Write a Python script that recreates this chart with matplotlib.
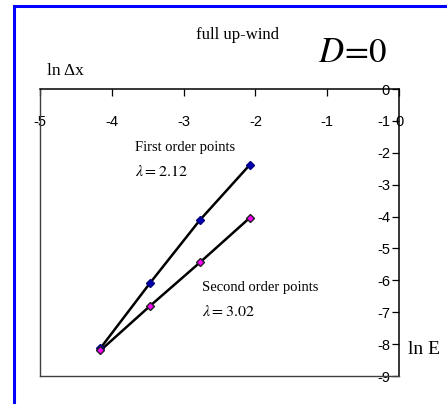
import matplotlib.pyplot as plt
from matplotlib.patches import Rectangle

plt.rcParams['mathtext.fontset'] = 'stix'

# grid spacing: ln(dx) for dx = 1/64 .. 1/8
ln_dx = [-4.159, -3.466, -2.773, -2.079]
# error for the first and second order schemes (ln E)
first_order = [-8.13, -6.08, -4.11, -2.38]
second_order = [-8.20, -6.80, -5.44, -4.04]

x_ticks = [-5, -4, -3, -2, -1, 0]
y_ticks = [0, -1, -2, -3, -4, -5, -6, -7, -8, -9]

W, H = 447, 404
fig = plt.figure(figsize=(W / 100, H / 100), dpi=100)

# blue frame round the chart (left and top edges show)
fig.patches.append(Rectangle((14 / W, -0.1), 1.2, 1.1 - 6 / H,
                             transform=fig.transFigure, fill=False,
                             edgecolor='#0000ff', linewidth=2.2))

ax = fig.add_axes([40 / W, 1 - 376 / H, 359 / W, 287 / H])
ax.set_xlim(-5, 0)
ax.set_ylim(-9, 0)

ax.plot(ln_dx, first_order, color='black', linewidth=1.8, zorder=2)
ax.plot(ln_dx, second_order, color='black', linewidth=1.8, zorder=2)
ax.plot(ln_dx, first_order, linestyle='none', marker='D', markersize=4,
        markerfacecolor='#0000b0', markeredgecolor='#000080', zorder=3)
ax.plot(ln_dx, second_order, linestyle='none', marker='D', markersize=4,
        markerfacecolor='#ff00ff', markeredgecolor='#202020', zorder=3)

ax.xaxis.tick_top()
ax.yaxis.tick_right()
ax.set_xticks(x_ticks)
ax.set_yticks(y_ticks)
ax.set_xticklabels([str(v) for v in x_ticks], fontfamily='Liberation Sans', fontsize=10.5)
ax.set_yticklabels([str(v) for v in y_ticks], fontfamily='Liberation Sans', fontsize=10.5)
ax.tick_params(axis='x', direction='in', length=5, pad=-29, width=0.9)
ax.tick_params(axis='y', direction='in', length=5, pad=-6.5, width=0.9)
for lab in ax.get_yticklabels():
    lab.set_horizontalalignment('right')

for side in ['top', 'right']:
    ax.spines[side].set_color('black')
    ax.spines[side].set_linewidth(1.1)
for side in ['left', 'bottom']:
    ax.spines[side].set_color('#404040')
    ax.spines[side].set_linewidth(1.0)

serif = 'Liberation Serif'
fig.text(237 / W, 1 - 35 / H, 'full up-wind', family=serif, fontsize=12,
         ha='center', va='center')
fig.text(353 / W, 1 - 52 / H, r'$D\!=\!0$', fontsize=25, ha='center', va='center')
fig.text(47 / W, 1 - 71 / H, 'ln Δx', family=serif, fontsize=12.5,
         ha='left', va='center')
fig.text(408 / W, 1 - 350 / H, 'ln E', family=serif, fontsize=14,
         ha='left', va='center')

fig.text(135 / W, 1 - 148 / H, 'First order points', family=serif, fontsize=10.5,
         ha='left', va='center')
fig.text(135 / W, 1 - 172 / H, r'$\lambda = 2.12$', fontsize=11.5,
         ha='left', va='center')
fig.text(202 / W, 1 - 287 / H, 'Second order points', family=serif, fontsize=10.5,
         ha='left', va='center')
fig.text(202 / W, 1 - 312 / H, r'$\lambda = 3.02$', fontsize=11.5,
         ha='left', va='center')

fig.savefig('out.png', dpi=100)
